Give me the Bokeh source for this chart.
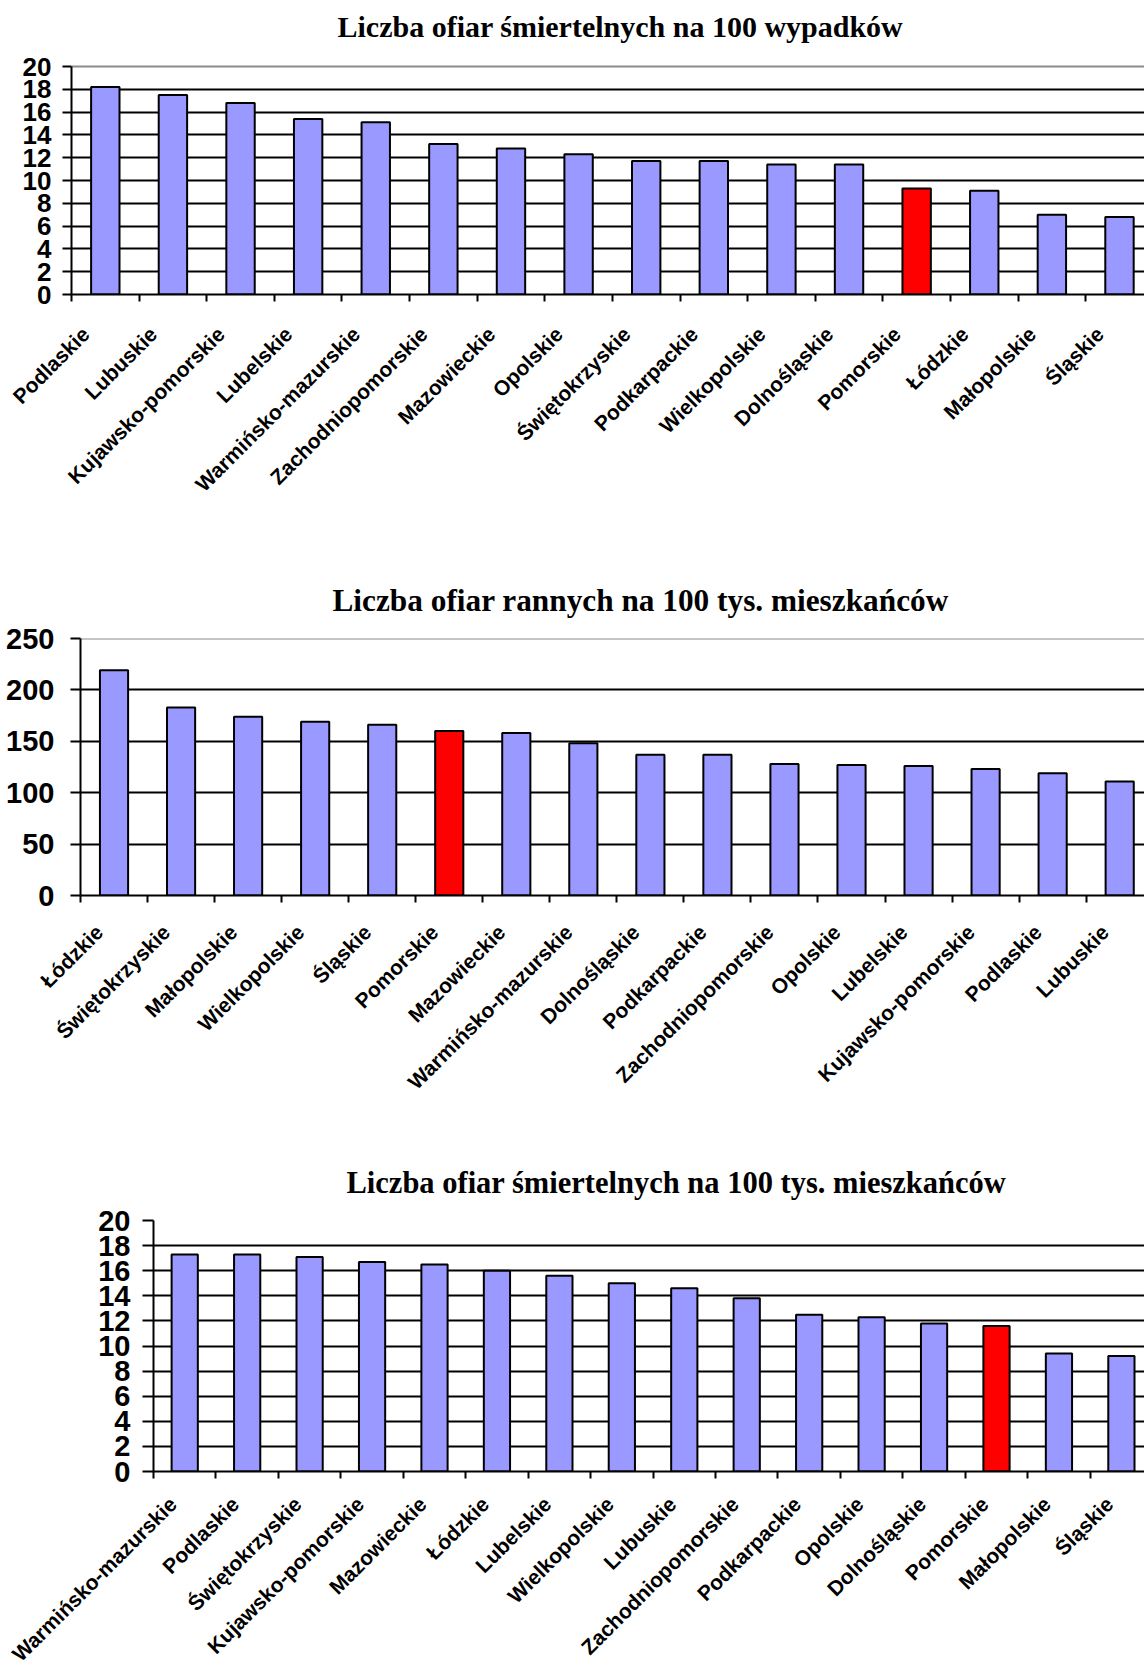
import math

from bokeh.embed import file_html
from bokeh.models import (ColumnDataSource, CustomJSTickFormatter, FixedTicker,
                          GlobalInlineStyleSheet, Label, Range1d, Span)
from bokeh.plotting import figure
from bokeh.resources import INLINE

# --- data -------------------------------------------------------------------

# Fatalities per 100 road accidents, by voivodeship
regions_1 = ["Podlaskie", "Lubuskie", "Kujawsko-pomorskie", "Lubelskie",
             "Warmińsko-mazurskie", "Zachodniopomorskie", "Mazowieckie", "Opolskie",
             "Świętokrzyskie", "Podkarpackie", "Wielkopolskie", "Dolnośląskie",
             "Pomorskie", "Łódzkie", "Małopolskie", "Śląskie"]
values_1 = [18.2, 17.5, 16.8, 15.4, 15.1, 13.2, 12.8, 12.3,
            11.7, 11.7, 11.4, 11.4, 9.3, 9.1, 7.0, 6.8]
title_1 = "Liczba ofiar śmiertelnych na 100 wypadków"
y_ticks_1 = [0, 2, 4, 6, 8, 10, 12, 14, 16, 18, 20]

# Injured per 100k inhabitants
regions_2 = ["Łódzkie", "Świętokrzyskie", "Małopolskie", "Wielkopolskie", "Śląskie",
             "Pomorskie", "Mazowieckie", "Warmińsko-mazurskie", "Dolnośląskie",
             "Podkarpackie", "Zachodniopomorskie", "Opolskie", "Lubelskie",
             "Kujawsko-pomorskie", "Podlaskie", "Lubuskie"]
values_2 = [219, 183, 174, 169, 166, 160, 158, 148,
            137, 137, 128, 127, 126, 123, 119, 111]
title_2 = "Liczba ofiar rannych na 100 tys. mieszkańców"
y_ticks_2 = [0, 50, 100, 150, 200, 250]

# Fatalities per 100k inhabitants
regions_3 = ["Warmińsko-mazurskie", "Podlaskie", "Świętokrzyskie", "Kujawsko-pomorskie",
             "Mazowieckie", "Łódzkie", "Lubelskie", "Wielkopolskie", "Lubuskie",
             "Zachodniopomorskie", "Podkarpackie", "Opolskie", "Dolnośląskie",
             "Pomorskie", "Małopolskie", "Śląskie"]
values_3 = [17.3, 17.3, 17.1, 16.7, 16.5, 16.0, 15.6, 15.0,
            14.6, 13.8, 12.5, 12.3, 11.8, 11.6, 9.4, 9.2]
title_3 = "Liczba ofiar śmiertelnych na 100 tys. mieszkańców"
y_ticks_3 = [0, 2, 4, 6, 8, 10, 12, 14, 16, 18, 20]

highlight = "Pomorskie"

# --- styling ----------------------------------------------------------------

PAGE_W = 1144
BAR_FILL = "#9999FF"
HIGHLIGHT_FILL = "#FF0000"
VISIBLE_CATEGORIES = 15.87   # the right edge of the plot area runs off the page
BAR_WIDTH = 0.42
TITLE_FONT = "Liberation Serif"
LABEL_FONT = "Liberation Sans"


def bar_chart(regions, values, title, y_ticks, height, left, top, bottom,
              y_font, y_standoff, y_tick_len, title_font, title_x, title_y,
              heading_inside, label_shift, label_standoff, top_line_grey):
    """Bar chart whose value axis ends at y_ticks[-1], `top` px below the canvas top."""
    y_max = y_ticks[-1]
    if heading_inside:
        # the frame reaches the canvas top; the value axis stops at y_max
        frame_h = height - bottom
        y_end = y_max * frame_h / (frame_h - top)
        border_top = 0
    else:
        y_end = y_max
        border_top = top
    p = figure(width=PAGE_W, height=height, output_backend="svg", toolbar_location=None,
               x_range=Range1d(0, VISIBLE_CATEGORIES), y_range=Range1d(0, y_end),
               min_border_left=left, min_border_right=0,
               min_border_top=border_top, min_border_bottom=bottom)
    p.outline_line_color = None
    p.background_fill_color = "white"
    p.border_fill_color = "white"

    if heading_inside:
        p.title.visible = False
        p.add_layout(Label(x=title_x - left, y=height - bottom - title_y,
                           x_units="screen", y_units="screen",
                           text=title, text_align="left", text_baseline="alphabetic",
                           text_font=TITLE_FONT, text_font_style="bold",
                           text_font_size=f"{title_font}px", text_color="black"))
    else:
        descent = 0.216 * title_font
        p.title.text = title
        p.title.align = "left"
        p.title.offset = title_x - left
        p.title.vertical_align = "bottom"
        p.title.standoff = 2 * (top - title_y - descent)
        p.title.text_font = TITLE_FONT
        p.title.text_font_style = "bold"
        p.title.text_font_size = f"{title_font}px"
        p.title.text_color = "black"

    centers = [i + 0.5 for i in range(len(regions))]
    colors = [HIGHLIGHT_FILL if r == highlight else BAR_FILL for r in regions]
    src = ColumnDataSource(dict(x=centers, top=values, region=regions, color=colors))
    p.vbar(x="x", top="top", bottom=0, width=BAR_WIDTH, source=src,
           fill_color="color", line_color="black", line_width=2)

    # horizontal grid lines
    grid_ticks = y_ticks[:-1] if top_line_grey else y_ticks
    p.xgrid.visible = False
    p.ygrid.ticker = FixedTicker(ticks=grid_ticks)
    p.ygrid.grid_line_color = "black"
    p.ygrid.grid_line_width = 2
    p.ygrid.level = "underlay"
    if top_line_grey:
        p.add_layout(Span(location=y_max, dimension="width", line_color="#8c8c8c",
                          line_width=2, level="underlay"))

    # value axis
    ya = p.yaxis[0]
    ya.bounds = (0, y_max)
    ya.ticker = FixedTicker(ticks=y_ticks)
    ya.axis_line_color = "black"
    ya.axis_line_width = 2
    ya.major_tick_line_color = "black"
    ya.major_tick_line_width = 2
    ya.major_tick_out = y_tick_len
    ya.major_tick_in = 0
    ya.minor_tick_line_color = None
    ya.major_label_standoff = y_standoff
    ya.major_label_text_font = LABEL_FONT
    ya.major_label_text_font_style = "bold"
    ya.major_label_text_font_size = f"{y_font}px"
    ya.major_label_text_color = "black"

    # category axis: tick marks between categories, slanted names
    xa = p.xaxis[0]
    label_pos = [c - label_shift for c in centers]
    bounds = list(range(len(regions) + 1))
    xa.ticker = FixedTicker(ticks=label_pos, minor_ticks=bounds)
    xa.formatter = CustomJSTickFormatter(args=dict(names=regions), code="return names[index];")
    xa.axis_line_color = "black"
    xa.axis_line_width = 2
    xa.major_tick_line_color = None
    xa.major_tick_out = 0
    xa.major_tick_in = 0
    xa.minor_tick_line_color = "black"
    xa.minor_tick_line_width = 2
    xa.minor_tick_out = 7
    xa.minor_tick_in = 0
    xa.major_label_orientation = math.pi / 4
    xa.major_label_standoff = label_standoff
    xa.major_label_text_font = LABEL_FONT
    xa.major_label_text_font_style = "bold"
    xa.major_label_text_font_size = "21px"
    xa.major_label_text_color = "black"
    return p


p1 = bar_chart(regions_1, values_1, title_1, y_ticks_1, height=540, left=71, top=66,
               bottom=246, y_font=26, y_standoff=11, y_tick_len=9, title_font=30,
               title_x=337, title_y=26, heading_inside=True,
               label_shift=0.29, label_standoff=29, top_line_grey=True)
p2 = bar_chart(regions_2, values_2, title_2, y_ticks_2, height=580, left=80, top=98,
               bottom=225, y_font=29, y_standoff=16, y_tick_len=10, title_font=31.3,
               title_x=332, title_y=70.7, heading_inside=False,
               label_shift=0.22, label_standoff=26, top_line_grey=True)
p3 = bar_chart(regions_3, values_3, title_3, y_ticks_3, height=576, left=153, top=100,
               bottom=225, y_font=29, y_standoff=12, y_tick_len=11, title_font=30.5,
               title_x=346, title_y=73.3, heading_inside=False,
               label_shift=0.19, label_standoff=22, top_line_grey=False)

# the last chart's category names run past the bottom of the page
p3.stylesheets = [GlobalInlineStyleSheet(css="html, body { overflow: hidden; }")]

open("out.html", "w").write(file_html([p1, p2, p3], INLINE))
